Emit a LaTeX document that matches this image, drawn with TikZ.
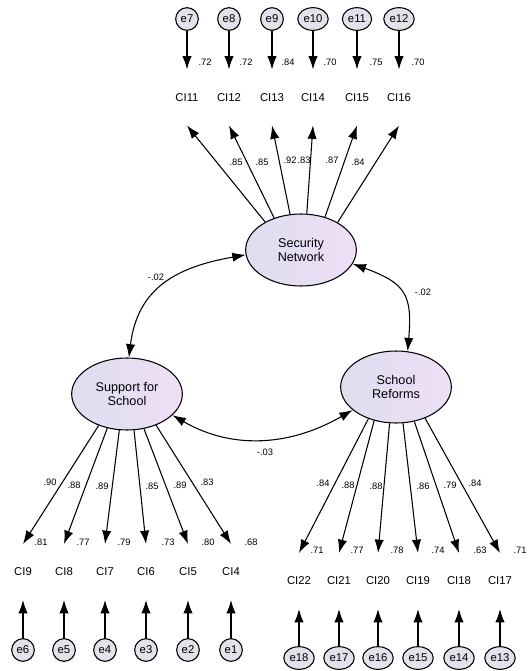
\documentclass[tikz,border=0pt]{standalone}
\usepackage{fontspec}
\setmainfont{Liberation Sans}
\usetikzlibrary{arrows.meta,shapes.geometric}
\definecolor{lavL}{RGB}{222,222,240}
\definecolor{lavR}{RGB}{238,222,246}
\definecolor{errgray}{RGB}{226,226,234}

\begin{document}
\begin{tikzpicture}[x=0.75pt,y=-0.75pt,line width=0.8pt,>={Latex[length=10pt,width=7pt]},
        latent/.style={ellipse,draw,left color=lavL,right color=lavR,minimum width=83pt,minimum height=54pt,inner sep=0pt,align=center,font=\fontsize{9.5}{10}\selectfont},
        err/.style={ellipse,draw,fill=errgray,minimum size=17pt,inner sep=1pt,font=\fontsize{8.5}{9}\selectfont},
        ind/.style={minimum height=41.25pt,inner sep=0pt,font=\fontsize{8.5}{9}\selectfont},
        coef/.style={inner sep=0pt,font=\fontsize{7}{8}\selectfont}]
    \useasboundingbox (0,0) rectangle (528,671);
    % factors
    \node [latent] (sn) at (301,250) {Security\\Network};
    \node [latent] (sfs) at (127,394) {Support for\\School};
    \node [latent] (sr) at (396,387) {School\\Reforms};
    % covariances
    \draw [<->] (sn.185) to[out=190,in=83,looseness=1.15] (sfs.87);
    \draw [<->] (sn.-15) to[out=-20,in=85,looseness=1.4] (sr.72);
    \draw [<->] (sfs.-25) to[out=-30,in=210] (sr.208);
    \node [coef] (c1) at (156,277) {-.02};
    \node [coef] (c2) at (423,292) {-.02};
    \node [coef] (c3) at (265,452) {-.03};
    % Security Network items
    \node [err] (e7) at (187,19) {e7};
    \node [err] (e8) at (229,19) {e8};
    \node [err] (e9) at (272,19) {e9};
    \node [err] (e10) at (313,19) {e10};
    \node [err] (e11) at (357,19) {e11};
    \node [err] (e12) at (399,19) {e12};
    \node [ind] (ci11) at (187,97.5) {CI11};
    \node [ind] (ci12) at (229,97.5) {CI12};
    \node [ind] (ci13) at (272,97.5) {CI13};
    \node [ind] (ci14) at (313,97.5) {CI14};
    \node [ind] (ci15) at (357,97.5) {CI15};
    \node [ind] (ci16) at (399,97.5) {CI16};
    \draw [->] (e7)--(ci11.north);
    \draw [->] (e8)--(ci12.north);
    \draw [->] (e9)--(ci13.north);
    \draw [->] (e10)--(ci14.north);
    \draw [->] (e11)--(ci15.north);
    \draw [->] (e12)--(ci16.north);
    \node [coef] (r11) at (205,62) {.72};
    \node [coef] (r12) at (246,62) {.72};
    \node [coef] (r13) at (288,62) {.84};
    \node [coef] (r14) at (330,62) {.70};
    \node [coef] (r15) at (376,62) {.75};
    \node [coef] (r16) at (418,62) {.70};
    \draw [->] (sn.142)--(ci11.south);
    \draw [->] (sn.130)--(ci12.south);
    \draw [->] (sn.107)--(ci13.south);
    \draw [->] (sn.81)--(ci14.south);
    \draw [->] (sn.54)--(ci15.south);
    \draw [->] (sn.37)--(ci16.south);
    \node [coef] (ld11) at (236,162) {.85};
    \node [coef] (ld12) at (262,162) {.85};
    \node [coef] (ld13) at (290,160) {.92};
    \node [coef] (ld14) at (304,160) {.83};
    \node [coef] (ld15) at (332,160) {.87};
    \node [coef] (ld16) at (358,162) {.84};
    % Support for School items
    \node [ind] (ci9) at (23,572) {CI9};
    \node [ind] (ci8) at (64,572) {CI8};
    \node [ind] (ci7) at (105,572) {CI7};
    \node [ind] (ci6) at (146,572) {CI6};
    \node [ind] (ci5) at (188,572) {CI5};
    \node [ind] (ci4) at (231,572) {CI4};
    \node [err] (e6) at (23,650) {e6};
    \node [err] (e5) at (64,650) {e5};
    \node [err] (e4) at (105,650) {e4};
    \node [err] (e3) at (146,650) {e3};
    \node [err] (e2) at (188,650) {e2};
    \node [err] (e1) at (231,650) {e1};
    \draw [->] (e6)--(ci9.south);
    \draw [->] (e5)--(ci8.south);
    \draw [->] (e4)--(ci7.south);
    \draw [->] (e3)--(ci6.south);
    \draw [->] (e2)--(ci5.south);
    \draw [->] (e1)--(ci4.south);
    \draw [->] (sfs.228)--(ci9.north);
    \draw [->] (sfs.240)--(ci8.north);
    \draw [->] (sfs.258)--(ci7.north);
    \draw [->] (sfs.281)--(ci6.north);
    \draw [->] (sfs.296)--(ci5.north);
    \draw [->] (sfs.313)--(ci4.north);
    \node [coef] (ld9) at (50,482) {.90};
    \node [coef] (ld8) at (74,485) {.88};
    \node [coef] (ld7) at (102,486) {.89};
    \node [coef] (ld6) at (152,486) {.85};
    \node [coef] (ld5) at (180,485) {.89};
    \node [coef] (ld4) at (207,482) {.83};
    \node [coef] (r9) at (41,542) {.81};
    \node [coef] (r8) at (83,542) {.77};
    \node [coef] (r7) at (124,542) {.79};
    \node [coef] (r6) at (168,542) {.73};
    \node [coef] (r5) at (208,542) {.80};
    \node [coef] (r4) at (251,542) {.68};
    % School Reforms items
    \node [ind] (ci22) at (299,581) {CI22};
    \node [ind] (ci21) at (339,581) {CI21};
    \node [ind] (ci20) at (378,581) {CI20};
    \node [ind] (ci19) at (418,581) {CI19};
    \node [ind] (ci18) at (459,581) {CI18};
    \node [ind] (ci17) at (500,581) {CI17};
    \node [err] (e18) at (299,658) {e18};
    \node [err] (e17) at (339,658) {e17};
    \node [err] (e16) at (378,658) {e16};
    \node [err] (e15) at (418,658) {e15};
    \node [err] (e14) at (459,658) {e14};
    \node [err] (e13) at (500,658) {e13};
    \draw [->] (e18)--(ci22.south);
    \draw [->] (e17)--(ci21.south);
    \draw [->] (e16)--(ci20.south);
    \draw [->] (e15)--(ci19.south);
    \draw [->] (e14)--(ci18.south);
    \draw [->] (e13)--(ci17.south);
    \draw [->] (sr.229)--(ci22.north);
    \draw [->] (sr.237.5)--(ci21.north);
    \draw [->] (sr.260)--(ci20.north);
    \draw [->] (sr.281.5)--(ci19.north);
    \draw [->] (sr.298)--(ci18.north);
    \draw [->] (sr.313.5)--(ci17.north);
    \node [coef] (ld22) at (323,483) {.84};
    \node [coef] (ld21) at (348,485) {.88};
    \node [coef] (ld20) at (376,486) {.88};
    \node [coef] (ld19) at (423,486) {.86};
    \node [coef] (ld18) at (450,485) {.79};
    \node [coef] (ld17) at (475,483) {.84};
    \node [coef] (r22) at (317,550) {.71};
    \node [coef] (r21) at (357,550) {.77};
    \node [coef] (r20) at (397,550) {.78};
    \node [coef] (r19) at (438,550) {.74};
    \node [coef] (r18) at (480,550) {.63};
    \node [coef] (r17) at (520,550) {.71};
\end{tikzpicture}
\end{document}
